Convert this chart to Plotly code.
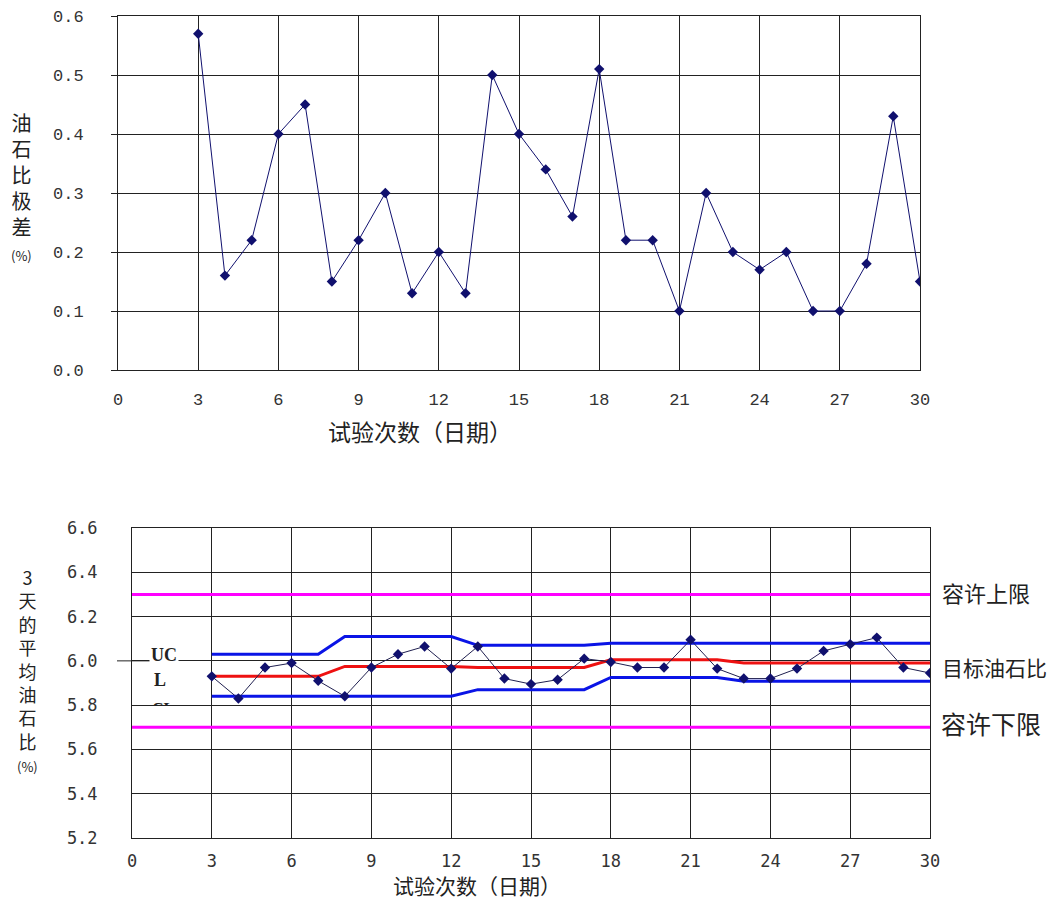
import plotly.graph_objects as go

# ---- data ----
days = list(range(3, 31))
range_vals = [0.57, 0.16, 0.22, 0.40, 0.45, 0.15, 0.22, 0.30, 0.13, 0.20, 0.13, 0.50, 0.40, 0.34,
              0.26, 0.51, 0.22, 0.22, 0.10, 0.30, 0.20, 0.17, 0.20, 0.10, 0.10, 0.18, 0.43, 0.15]
avg_vals = [5.93, 5.83, 5.97, 5.99, 5.91, 5.84, 5.97, 6.03, 6.065, 5.965, 6.065, 5.92, 5.895, 5.915,
            6.01, 5.995, 5.97, 5.97, 6.095, 5.965, 5.92, 5.92, 5.965, 6.045, 6.075, 6.105, 5.97, 5.945]
ucl_vals = [6.03, 6.03, 6.03, 6.03, 6.03, 6.11, 6.11, 6.11, 6.11, 6.11, 6.07, 6.07, 6.07, 6.07,
            6.07, 6.08, 6.08, 6.08, 6.08, 6.08, 6.08, 6.08, 6.08, 6.08, 6.08, 6.08, 6.08, 6.08]
cl_vals = [5.93, 5.93, 5.93, 5.93, 5.93, 5.975, 5.975, 5.975, 5.975, 5.975, 5.97, 5.97, 5.97, 5.97,
           5.97, 6.005, 6.005, 6.005, 6.005, 6.005, 5.99, 5.99, 5.99, 5.99, 5.99, 5.99, 5.99, 5.99]
lcl_vals = [5.84, 5.84, 5.84, 5.84, 5.84, 5.84, 5.84, 5.84, 5.84, 5.84, 5.87, 5.87, 5.87, 5.87,
            5.87, 5.925, 5.925, 5.925, 5.925, 5.925, 5.908, 5.908, 5.908, 5.908, 5.908, 5.908, 5.908, 5.908]
upper_limit = 6.3
lower_limit = 5.7
x_ticks = list(range(0, 31, 3))
x_title = "试验次数（日期）"
y1_title_chars = ["油", "石", "比", "极", "差"]
y2_title_chars = ["3", "天", "的", "平", "均", "油", "石", "比"]
pct = "(%)"
right_labels = ["容许上限", "目标油石比", "容许下限"]

W, H = 1059, 900
NAVY = "#10106e"
CJK = "Noto Sans CJK SC"
MONO = "Liberation Mono"
TXT = "#222222"


def px(x):
    return x / W


def py(y):
    return 1 - y / H


fig = go.Figure()

# top chart
fig.add_trace(go.Scatter(x=days, y=range_vals, mode="lines+markers",
                         line=dict(color=NAVY, width=1),
                         marker=dict(symbol="diamond", size=8, color=NAVY),
                         xaxis="x", yaxis="y", showlegend=False))

# bottom chart
fig.add_trace(go.Scatter(x=[0, 30], y=[upper_limit, upper_limit], mode="lines",
                         line=dict(color="#ff00ff", width=3), xaxis="x2", yaxis="y2", showlegend=False))
fig.add_trace(go.Scatter(x=[0, 30], y=[lower_limit, lower_limit], mode="lines",
                         line=dict(color="#ff00ff", width=3), xaxis="x2", yaxis="y2", showlegend=False))
fig.add_trace(go.Scatter(x=days, y=ucl_vals, mode="lines", line=dict(color="#0a14e6", width=3),
                         xaxis="x2", yaxis="y2", showlegend=False))
fig.add_trace(go.Scatter(x=days, y=lcl_vals, mode="lines", line=dict(color="#0a14e6", width=3),
                         xaxis="x2", yaxis="y2", showlegend=False))
fig.add_trace(go.Scatter(x=days, y=cl_vals, mode="lines", line=dict(color="#ee1111", width=3),
                         xaxis="x2", yaxis="y2", showlegend=False))
fig.add_trace(go.Scatter(x=days, y=avg_vals, mode="lines+markers",
                         line=dict(color="#202050", width=1),
                         marker=dict(symbol="diamond", size=8, color=NAVY),
                         xaxis="x2", yaxis="y2", showlegend=False))

axis_common = dict(showgrid=True, gridcolor="#222222", gridwidth=1, showline=True,
                   linecolor="#222222", linewidth=1, mirror=True, zeroline=False, automargin=False)

fig.update_layout(
    width=W, height=H, margin=dict(l=0, r=0, t=0, b=0, pad=0), autosize=False,
    plot_bgcolor="white", paper_bgcolor="white",
    xaxis=dict(domain=[px(118), px(920)], range=[0, 30], tickvals=x_ticks, anchor="y",
               tickfont=dict(family=MONO, size=17, color="#333333"), ticks="", ticklabelstandoff=14,
               **axis_common),
    yaxis=dict(domain=[py(370), py(16)], range=[0, 0.6], dtick=0.1, tickformat=".1f",
               anchor="x", tickfont=dict(family=MONO, size=17, color="#333333"),
               ticks="outside", ticklen=6, tickcolor="#222222", ticklabelstandoff=24,
               **axis_common),
    xaxis2=dict(domain=[px(132), px(930)], range=[0, 30], tickvals=x_ticks, anchor="y2",
                tickfont=dict(family="DejaVu Sans Mono", size=17, color="#333333"), ticks="",
                ticklabelstandoff=8, **axis_common),
    yaxis2=dict(domain=[py(838), py(528)], range=[5.2, 6.6], dtick=0.2, tickformat=".1f",
                anchor="x2", tickfont=dict(family="DejaVu Sans Mono", size=17, color="#333333"),
                ticks="", ticklabelstandoff=30, **axis_common),
)

ann = []


def txt(text, x, y, size, family=CJK, **kw):
    d = dict(text=text, xref="paper", yref="paper", x=px(x), y=py(y), xanchor="center",
             yanchor="middle", showarrow=False, font=dict(family=family, size=size, color=TXT))
    d.update(kw)
    ann.append(d)


pct_html = "<span style='font-size:13px'>" + pct + "</span>"

# axis titles
txt(x_title, 420, 431, 23)
txt(x_title, 477, 885, 21)
txt("<br>".join(y1_title_chars + [pct_html]), 21, 106, 20, yanchor="top")
txt("<br>".join(y2_title_chars + [pct_html]), 27, 562, 18, yanchor="top")

# right-side labels
txt(right_labels[0], 940, 592, 22, xanchor="left")
txt(right_labels[1], 940, 667, 21, xanchor="left")
txt(right_labels[2], 939, 723, 25, xanchor="left")

# UCL / CL markers on left
txt("<b>UC</b>", 164, 655, 18, family="Liberation Serif", bgcolor="white")
txt("<b>L</b>", 160, 680, 18, family="Liberation Serif")
txt("<b>CL</b>", 163, 698, 16, family="Liberation Serif", yanchor="top", height=5, valign="top")

fig.update_layout(annotations=ann)

# small extension of the 6.0 gridline to the left of the frame
fig.add_shape(type="line", xref="paper", yref="y2", x0=px(117), x1=px(150), y0=6.0, y1=6.0,
              line=dict(color="#222222", width=1), layer="below")

fig.write_html("out.html", config={"displayModeBar": False},
               post_script="document.body.style.margin='0px';document.body.style.overflow='hidden';")
